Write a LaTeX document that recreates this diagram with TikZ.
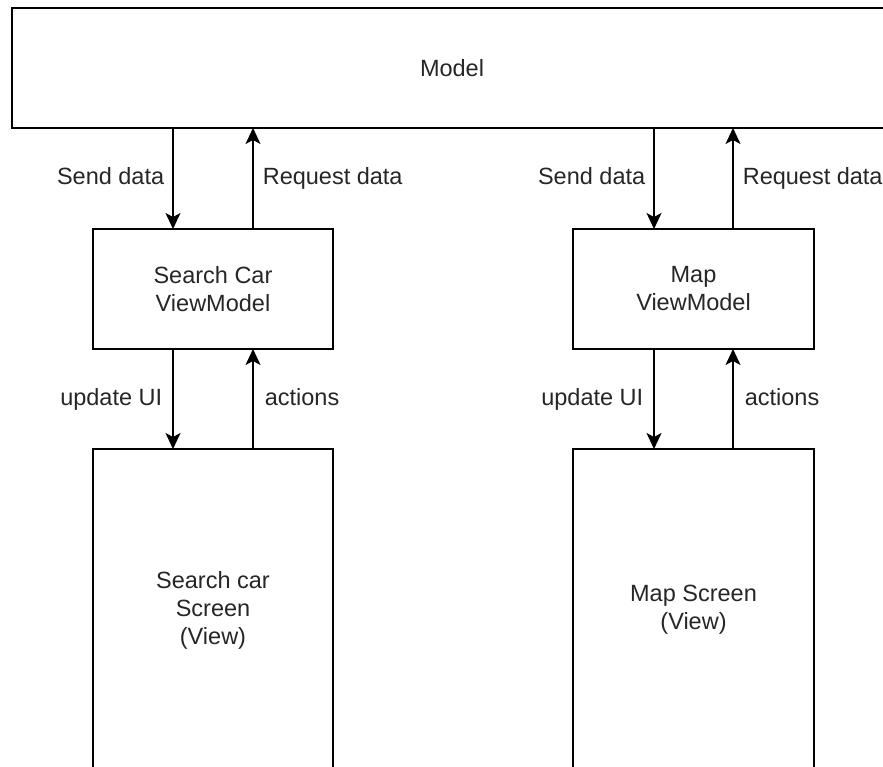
\documentclass[tikz,border=0pt]{standalone}
\usepackage{fontspec}
\setmainfont{Liberation Sans}
\usetikzlibrary{arrows.meta,positioning}
\begin{document}
\begin{tikzpicture}[x=1pt,y=-1pt,
  box/.style={draw=black,line width=1.6pt,rectangle,inner sep=0pt,outer sep=0pt,
    align=center,text=black!85,font=\fontsize{23.5}{28}\selectfont},
  arr/.style={draw=black,line width=1.6pt,-{Stealth[length=16pt,width=15pt,inset=4pt]}},
  lbl/.style={inner sep=0pt,text height=17pt,text depth=5pt,text=black!85,font=\fontsize{23.5}{28}\selectfont}]
\useasboundingbox (0,0) rectangle (883,767);
\clip (0,0) rectangle (883,767);
\node[box,minimum width=880pt,minimum height=120pt] (model) at (452,68) {Model};
\node[box,minimum width=240pt,minimum height=120pt] (svm) at (213,289) {Search Car\\ViewModel};
\node[box,minimum width=241pt,minimum height=120pt] (mvm) at (693.5,289) {Map\\ViewModel};
\node[box,minimum width=240pt,minimum height=322pt] (sscr) at (213,610) {Search car\\Screen\\(View)};
\node[box,minimum width=241pt,minimum height=322pt] (mscr) at (693.5,610) {Map Screen\\(View)};
% Search car column
\draw[arr] ([xshift=-40pt]svm.north |- model.south) -- ([xshift=-40pt]svm.north)
  node[midway,left=8pt,lbl] {Send data};
\draw[arr] ([xshift=40pt]svm.north) -- ([xshift=40pt]svm.north |- model.south)
  node[midway,right=9pt,lbl] {Request data};
\draw[arr] ([xshift=-40pt]svm.south) -- ([xshift=-40pt]sscr.north)
  node[midway,left=10pt,lbl] {update UI};
\draw[arr] ([xshift=40pt]sscr.north) -- ([xshift=40pt]svm.south)
  node[midway,right=11pt,lbl] {actions};
% Map column
\draw[arr] ([xshift=-39.5pt]mvm.north |- model.south) -- ([xshift=-39.5pt]mvm.north)
  node[midway,left=8pt,lbl] {Send data};
\draw[arr] ([xshift=39.5pt]mvm.north) -- ([xshift=39.5pt]mvm.north |- model.south)
  node[midway,right=9pt,lbl] {Request data};
\draw[arr] ([xshift=-39.5pt]mvm.south) -- ([xshift=-39.5pt]mscr.north)
  node[midway,left=10pt,lbl] {update UI};
\draw[arr] ([xshift=39.5pt]mscr.north) -- ([xshift=39.5pt]mvm.south)
  node[midway,right=11pt,lbl] {actions};
\end{tikzpicture}
\end{document}
